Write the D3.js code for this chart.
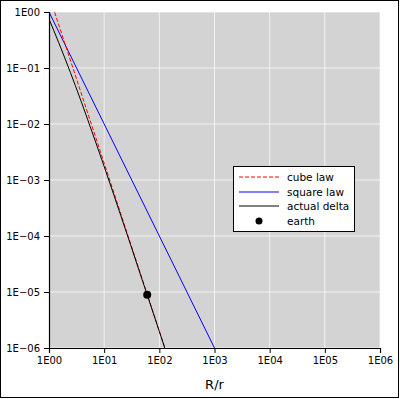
<!DOCTYPE html>
<html><head><meta charset="utf-8">
<script src="https://cdn.jsdelivr.net/npm/d3@7"></script>
<style>body{margin:0;background:#fff}svg{display:block}text{font-family:"DejaVu Sans",sans-serif}</style>
</head><body>
<svg id="c" width="400" height="399"></svg>
<script>
const xTicks = [1, 10, 100, 1e3, 1e4, 1e5, 1e6];
const xTickLabels = ["1E00","1E01","1E02","1E03","1E04","1E05","1E06"];
const yTicks = [1, 1e-1, 1e-2, 1e-3, 1e-4, 1e-5, 1e-6];
const yTickLabels = ["1E00","1E\u221201","1E\u221202","1E\u221203","1E\u221204","1E\u221205","1E\u221206"];
const cubeX = [1, 1.26, 10, 126, 1e6];
const cubeY = [2, 1, 2e-3, 1e-6, 2e-18];
const squareX = [1, 10, 1000, 1e6];
const squareY = [1, 1e-2, 1e-6, 1e-12];
const actualX = [1, 1.5, 2, 3, 5, 7, 10, 20, 30, 50, 60.3, 100, 126, 200];
const actualY = [0.75, 0.284, 0.139, 0.0486, 0.0122, 0.00478, 0.00174, 2.32e-4, 7.05e-5, 1.54e-5, 8.9e-6, 1.97e-6, 9.9e-7, 2.48e-7];
const earthX = [60.3];
const earthY = [8.9e-6];
const legendLabels = ["cube law", "square law", "actual delta", "earth"];

const svg = d3.select("#c");
const L = 49, R = 380, T = 12, B = 348;
const x = d3.scaleLog().domain([1, 1e6]).range([L, R]);
const y = d3.scaleLog().domain([1e-6, 1]).range([B, T]);

svg.append("rect").attr("x",0.5).attr("y",0.5).attr("width",398).attr("height",397)
  .attr("fill","#fff").attr("stroke","#000").attr("stroke-width",1);

svg.append("rect").attr("x",L).attr("y",T).attr("width",R-L).attr("height",B-T).attr("fill","#d3d3d3");

svg.append("defs").append("clipPath").attr("id","clip").append("rect")
  .attr("x",L).attr("y",T).attr("width",R-L).attr("height",B-T);

const grid = svg.append("g");
xTicks.forEach(v => grid.append("line").attr("x1",x(v)).attr("x2",x(v)).attr("y1",T).attr("y2",B)
  .attr("stroke","#fff").attr("stroke-opacity",0.7).attr("stroke-width",1));
yTicks.forEach(v => grid.append("line").attr("y1",y(v)).attr("y2",y(v)).attr("x1",L).attr("x2",R)
  .attr("stroke","#fff").attr("stroke-opacity",0.7).attr("stroke-width",1));

const plot = svg.append("g").attr("clip-path","url(#clip)");
const line = d3.line().x(d => x(d[0])).y(d => y(d[1]));
plot.append("path").datum(squareX.map((v,i)=>[v,squareY[i]])).attr("d",line)
  .attr("fill","none").attr("stroke","#0000ff").attr("stroke-width",1);
plot.append("path").datum(cubeX.map((v,i)=>[v,cubeY[i]])).attr("d",line)
  .attr("fill","none").attr("stroke","#ff0000").attr("stroke-width",1).attr("stroke-dasharray","4,2");
plot.append("path").datum(actualX.map((v,i)=>[v,actualY[i]])).attr("d",d3.line().curve(d3.curveMonotoneX).x(d=>x(d[0])).y(d=>y(d[1])))
  .attr("fill","none").attr("stroke","#000").attr("stroke-width",1);
plot.selectAll("circle.earth").data(earthX.map((v,i)=>[v,earthY[i]])).join("circle")
  .attr("cx",d=>x(d[0])).attr("cy",d=>y(d[1])).attr("r",4).attr("fill","#000");

const xAxis = d3.axisBottom(x).tickValues(xTicks).tickFormat((d,i)=>xTickLabels[i]).tickSizeOuter(0).tickSize(5).tickPadding(4);
const gx = svg.append("g").attr("transform",`translate(0,${B})`).call(xAxis);
const yAxis = d3.axisLeft(y).tickValues(yTicks).tickFormat((d,i)=>yTickLabels[i]).tickSizeOuter(0).tickSize(5).tickPadding(4);
const gy = svg.append("g").attr("transform",`translate(${L},0)`).call(yAxis);
[gx, gy].forEach(g => {
  g.selectAll("text").attr("font-family","DejaVu Sans").attr("font-size",10).attr("fill","#000");
  g.selectAll("line,path").attr("stroke","#000");
  g.select(".domain").attr("stroke-width",1.2);
});

svg.append("text").attr("x",(L+R)/2).attr("y",389).attr("text-anchor","middle")
  .attr("font-size",13).attr("fill","#000").text("R/r");

// legend
const lg = svg.append("g");
lg.append("rect").attr("x",233.5).attr("y",166.5).attr("width",121).attr("height",65)
  .attr("fill","#fff").attr("stroke","#000").attr("stroke-width",1);
const ly = [177, 192, 206, 221];
const styles = [{c:"#ff0000",d:"4,2"},{c:"#0000ff",d:null},{c:"#000",d:null}];
legendLabels.forEach((t,i) => {
  if (i < 3) {
    lg.append("line").attr("x1",239).attr("x2",279).attr("y1",ly[i]).attr("y2",ly[i])
      .attr("stroke",styles[i].c).attr("stroke-width",1).attr("stroke-dasharray",styles[i].d);
  } else {
    lg.append("circle").attr("cx",259).attr("cy",ly[i]).attr("r",3.5).attr("fill","#000");
  }
  lg.append("text").attr("x",287).attr("y",ly[i]).attr("dy","0.35em").attr("font-size",10.5).attr("fill","#000").text(t);
});
</script>
</body></html>
